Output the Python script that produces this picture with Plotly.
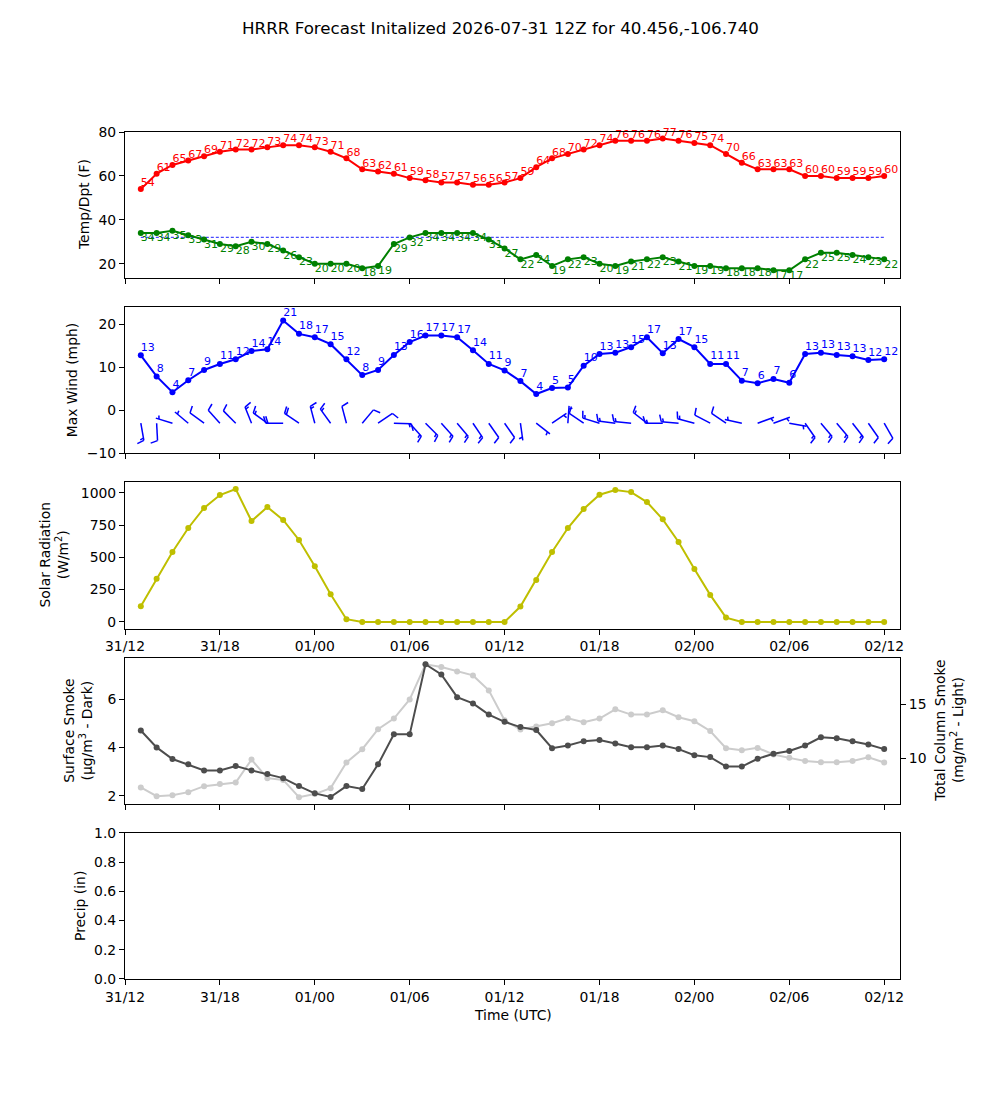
import numpy as np
import pandas as pd
import plotly.graph_objects as go

# ---------------- data ----------------
TITLE = "HRRR Forecast Initalized 2026-07-31 12Z for 40.456,-106.740"
INIT_TIME = "2026-07-31 12:00"
FORECAST_HOURS = list(range(1, 49))

temp_f = [54, 61, 65, 67, 69, 71, 72, 72, 73, 74, 74, 73, 71, 68, 63, 62, 61, 59, 58, 57, 57, 56, 56, 57,
          59, 64, 68, 70, 72, 74, 76, 76, 76, 77, 76, 75, 74, 70, 66, 63, 63, 63, 60, 60, 59, 59, 59, 60]
dewpt_f = [34, 34, 35, 33, 31, 29, 28, 30, 29, 26, 23, 20, 20, 20, 18, 19, 29, 32, 34, 34, 34, 34, 31, 27,
           22, 24, 19, 22, 23, 20, 19, 21, 22, 23, 21, 19, 19, 18, 18, 18, 17, 17, 22, 25, 25, 24, 23, 22]
FREEZING_F = 32

wind_mph = [12.8, 7.9, 4.2, 7.0, 9.4, 10.8, 11.9, 13.8, 14.2, 20.9, 17.8, 17.0, 15.4, 11.9, 8.2, 9.4,
            12.9, 15.9, 17.4, 17.4, 17.0, 14.0, 10.8, 9.3,
            6.8, 3.8, 5.2, 5.3, 10.4, 13.1, 13.4, 14.7, 17.0, 13.3, 16.6, 14.7, 10.8, 10.8, 6.9, 6.3,
            7.3, 6.4, 13.1, 13.4, 12.9, 12.6, 11.7, 11.9]
wind_dir_deg = [170, 177, 287, 310, 306, 318, 315, 338, 306, 270, 304, 345, 324, 345, 40, 56,
                92, 138, 135, 138, 140, 146, 145, 145,
                172, 128, 56, 4, 304, 287, 277, 276, 308, 270, 275, 285, 298, 304, 282, 70,
                70, 100, 145, 140, 140, 142, 145, 150]
BARB_LEVEL = -3

solar_wm2 = [121, 333, 541, 727, 882, 982, 1028, 781, 889, 789, 634, 431, 214, 21, 0, 0, 0, 0, 0, 0, 0, 0, 0, 0,
             119, 325, 541, 727, 874, 985, 1021, 1005, 928, 794, 619, 410, 209, 33, 0, 0, 0, 0, 0, 0, 0, 0, 0, 0]

surface_smoke = [4.70, 4.00, 3.52, 3.30, 3.05, 3.05, 3.23, 3.05, 2.90, 2.73, 2.40, 2.10, 1.95, 2.40, 2.28, 3.30,
                 4.54, 4.54, 7.44, 7.02, 6.08, 5.82, 5.36, 5.06,
                 4.84, 4.72, 3.97, 4.08, 4.26, 4.31, 4.16, 4.01, 4.01, 4.08, 3.93, 3.68, 3.60, 3.21, 3.21, 3.53,
                 3.74, 3.85, 4.08, 4.42, 4.38, 4.26, 4.12, 3.93]
column_smoke = [7.33, 6.53, 6.62, 6.90, 7.45, 7.64, 7.79, 9.90, 8.19, 8.03, 6.44, 6.72, 7.27, 9.63, 10.86, 12.70,
                13.68, 15.45, 18.68, 18.43, 18.03, 17.66, 16.28, 13.52,
                12.67, 12.94, 13.25, 13.71, 13.34, 13.68, 14.54, 14.05, 14.05, 14.44, 13.80, 13.43, 12.54, 10.95,
                10.77, 10.98, 10.37, 10.06, 9.78, 9.66, 9.66, 9.78, 10.12, 9.63]

# ---------------- layout geometry ----------------
W, H = 1000, 1100
LEFT, RIGHT = 0.125, 0.9
TOP, BOTTOM, HSPACE = 0.88, 0.11, 0.2
ph = (TOP - BOTTOM) / (5 + 4 * HSPACE)
domains = [[TOP - i * ph * (1 + HSPACE) - ph, TOP - i * ph * (1 + HSPACE)] for i in range(5)]

init = pd.Timestamp(INIT_TIME)
times = [init + pd.Timedelta(hours=h) for h in FORECAST_HOURS]
x_start = init
x_end = init + pd.Timedelta(hours=49)
x_span_hours = 49.0

FONT = "DejaVu Sans"
TICK_FS = 13.9
LBL_FS = 11

wind_range = [-10, 24]
temp_range = [13.5, 80]

fig = go.Figure()

# --- panel 1: temperature / dewpoint
fig.add_trace(go.Scatter(x=times, y=[FREEZING_F] * len(times), mode="lines",
                         line=dict(color="#4a4aff", width=1.1, dash="3px,2px"),
                         xaxis="x", yaxis="y", hoverinfo="skip"))
fig.add_trace(go.Scatter(x=times, y=temp_f, mode="lines+markers",
                         line=dict(color="red", width=2), marker=dict(color="red", size=6),
                         xaxis="x", yaxis="y"))
fig.add_trace(go.Scatter(x=times, y=dewpt_f, mode="lines+markers",
                         line=dict(color="green", width=2), marker=dict(color="green", size=6),
                         xaxis="x", yaxis="y"))
fig.add_trace(go.Scatter(x=times, y=temp_f, mode="text", text=[f"{v:.0f}" for v in temp_f],
                         textposition="top right", textfont=dict(color="red", size=LBL_FS, family=FONT),
                         cliponaxis=False, xaxis="x", yaxis="y", hoverinfo="skip"))
fig.add_trace(go.Scatter(x=times, y=dewpt_f, mode="text", text=[f"{v:.0f}" for v in dewpt_f],
                         textposition="bottom right", textfont=dict(color="green", size=LBL_FS, family=FONT),
                         cliponaxis=False, xaxis="x", yaxis="y", hoverinfo="skip"))

# --- panel 2: wind
fig.add_trace(go.Scatter(x=times, y=wind_mph, mode="lines+markers",
                         line=dict(color="blue", width=2), marker=dict(color="blue", size=6),
                         xaxis="x2", yaxis="y2"))
fig.add_trace(go.Scatter(x=times, y=[v + 0.4 for v in wind_mph], mode="text",
                         text=[f"{v:.0f}" for v in wind_mph],
                         textposition="top right", textfont=dict(color="blue", size=LBL_FS, family=FONT),
                         cliponaxis=False, xaxis="x2", yaxis="y2", hoverinfo="skip"))

# wind barbs (matplotlib-style geometry, built in pixel space then mapped to data)
px_per_hour = (RIGHT - LEFT) * W / x_span_hours
px_per_unit = (domains[1][1] - domains[1][0]) * H / (wind_range[1] - wind_range[0])
L = 17.4
BH, BW, BS = 0.4 * L, 0.25 * L, 0.125 * L


def barb_segments(direction, speed):
    th = np.deg2rad(direction)
    d = np.array([np.sin(th), np.cos(th)])
    b = np.array([d[1], -d[0]])
    mag = 5 * np.floor(speed / 5 + 0.5)
    nbarb = int(mag // 10)
    half = (mag % 10) >= 5
    segs = [[np.zeros(2), L * d]]
    off = L
    for _ in range(nbarb):
        p0 = off * d
        segs.append([p0, p0 + BH * b + (BW / 2) * d])
        off -= BS
    if half:
        if off == L:
            off -= 1.5 * BS
        p0 = off * d
        segs.append([p0, p0 + (BH / 2) * b + (BW / 4) * d])
    return segs


bx, by = [], []
for t, spd, dr in zip(times, wind_mph, wind_dir_deg):
    for seg in barb_segments(dr, spd):
        for p in seg:
            bx.append(t + pd.Timedelta(hours=float(p[0]) / px_per_hour))
            by.append(BARB_LEVEL + float(p[1]) / px_per_unit)
        bx.append(None)
        by.append(None)
fig.add_trace(go.Scatter(x=bx, y=by, mode="lines", line=dict(color="blue", width=1.5),
                         xaxis="x2", yaxis="y2", hoverinfo="skip", connectgaps=False))

# --- panel 3: solar radiation
fig.add_trace(go.Scatter(x=times, y=solar_wm2, mode="lines+markers",
                         line=dict(color="#bfbf00", width=2), marker=dict(color="#bfbf00", size=6),
                         xaxis="x3", yaxis="y3"))

# --- panel 4: smoke (light = column on right axis, dark = surface on left axis)
fig.add_trace(go.Scatter(x=times, y=column_smoke, mode="lines+markers",
                         line=dict(color="#cccccc", width=2), marker=dict(color="#cccccc", size=6),
                         xaxis="x4", yaxis="y4"))
fig.add_trace(go.Scatter(x=times, y=surface_smoke, mode="lines+markers",
                         line=dict(color="#4d4d4d", width=2), marker=dict(color="#4d4d4d", size=6),
                         xaxis="x4", yaxis="y6"))

# --- panel 5: precip (empty)
fig.add_trace(go.Scatter(x=[times[0]], y=[None], mode="lines", xaxis="x5", yaxis="y5", hoverinfo="skip"))


def xaxis(anchor, labels):
    return dict(domain=[LEFT, RIGHT], anchor=anchor, type="date", range=[x_start, x_end],
                tick0=init, dtick=6 * 3600 * 1000, tickformat="%d/%H",
                showticklabels=labels, ticks="outside", ticklen=5, tickwidth=1.1, tickcolor="black",
                showline=True, linecolor="black", linewidth=1.1, mirror=True,
                showgrid=False, zeroline=False, automargin=False,
                tickfont=dict(family=FONT, size=TICK_FS, color="black"))


def yaxis(dom, anchor, rng, dtick, side="left", fmt=None):
    d = dict(domain=dom, anchor=anchor, range=rng, dtick=dtick, side=side,
             ticks="outside", ticklen=5, tickwidth=1.1, tickcolor="black",
             showline=True, linecolor="black", linewidth=1.1, mirror=True,
             showgrid=False, zeroline=False, automargin=False,
             tickfont=dict(family=FONT, size=TICK_FS, color="black"))
    if fmt:
        d["tickformat"] = fmt
    return d


dark_rng = [1.67, 7.71]
light_rng = [5.83, 19.29]
solar_rng = [-51.4, 1079.4]

layout = dict(
    width=W, height=H, autosize=False,
    margin=dict(l=0, r=0, t=0, b=0, pad=0, autoexpand=False),
    paper_bgcolor="white", plot_bgcolor="white", showlegend=False,
    font=dict(family=FONT, size=TICK_FS, color="black"),
    xaxis=xaxis("y", False),
    xaxis2=xaxis("y2", False),
    xaxis3=xaxis("y3", True),
    xaxis4=xaxis("y4", False),
    xaxis5=xaxis("y5", True),
    yaxis=yaxis(domains[0], "x", temp_range, 20),
    yaxis2=yaxis(domains[1], "x2", wind_range, 10),
    yaxis3=yaxis(domains[2], "x3", solar_rng, 250),
    yaxis4=yaxis(domains[3], "x4", light_rng, 5, side="right"),
    yaxis5=yaxis(domains[4], "x5", [0, 1], 0.2, fmt=".1f"),
)
y6 = yaxis(domains[3], "x4", dark_rng, 2, side="left")
y6.update(overlaying="y4", showline=False, mirror=False)
layout["yaxis6"] = y6
fig.update_layout(**layout)


def ylab(text, xpx, dom):
    return dict(text=text, x=xpx / W, y=(dom[0] + dom[1]) / 2, xref="paper", yref="paper",
                xanchor="center", yanchor="middle", textangle=-90, showarrow=False,
                font=dict(family=FONT, size=TICK_FS, color="black"))


annotations = [
    dict(text=TITLE, x=0.5, y=1 - 16 / H, xref="paper", yref="paper", xanchor="center", yanchor="top",
         showarrow=False, font=dict(family=FONT, size=16.7, color="black")),
    dict(text="Time (UTC)", x=(LEFT + RIGHT) / 2, y=1 - 1015 / H, xref="paper", yref="paper",
         xanchor="center", yanchor="middle", showarrow=False,
         font=dict(family=FONT, size=TICK_FS, color="black")),
    ylab("Temp/Dpt (F)", 84, domains[0]),
    ylab("Max Wind (mph)", 72, domains[1]),
    ylab("Solar Radiation<br>(W/m<sup>2</sup>)", 53, domains[2]),
    ylab("Surface Smoke<br>(μg/m<sup>3</sup> - Dark)", 78, domains[3]),
    ylab("Total Column Smoke<br>(mg/m<sup>2</sup> - Light)", 949, domains[3]),
    ylab("Precip (in)", 80, domains[4]),
]
fig.update_layout(annotations=annotations)

fig.write_html("out.html")
